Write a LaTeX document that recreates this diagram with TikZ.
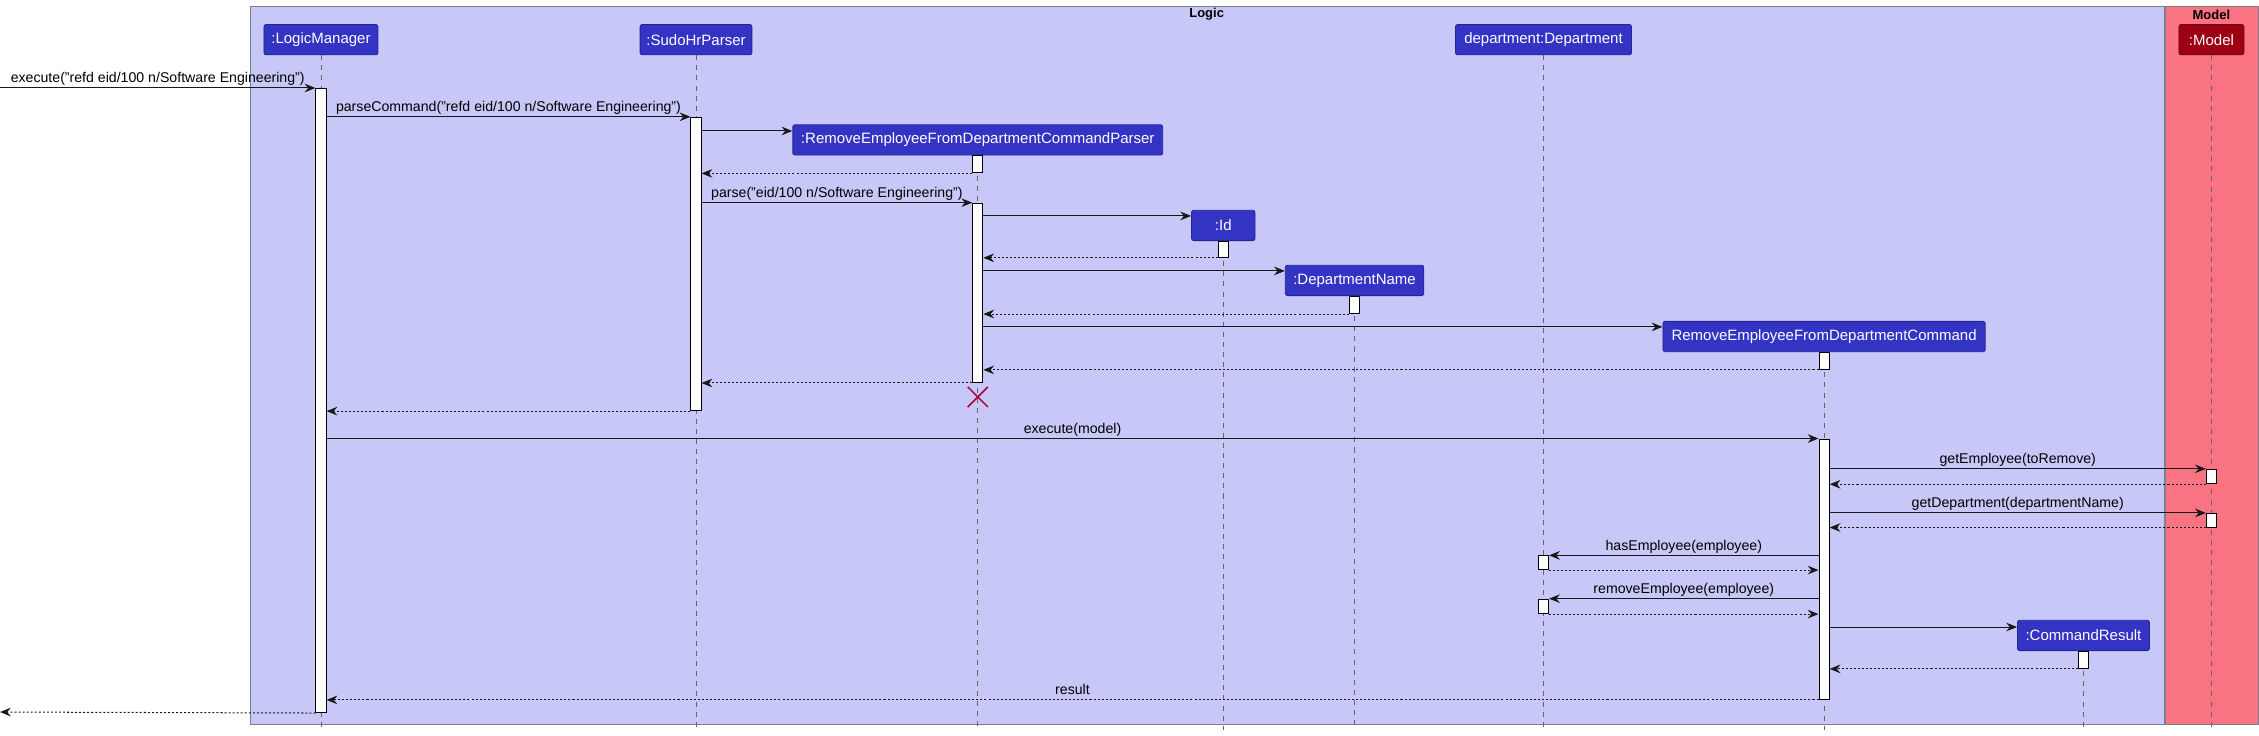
\documentclass[tikz,border=0pt]{standalone}
\usepackage{fontspec}
\setmainfont{Liberation Sans}
\usetikzlibrary{arrows.meta,shapes.misc}
\definecolor{logicbg}{RGB}{200,200,248}
\definecolor{modelbg}{RGB}{249,115,130}
\definecolor{partblue}{RGB}{51,51,196}
\definecolor{partred}{RGB}{157,0,18}
\definecolor{framegray}{RGB}{125,125,140}
\definecolor{destroyred}{RGB}{168,0,54}
\begin{document}
\begin{tikzpicture}[x=1pt,y=-1pt,
 frame/.style={draw=framegray, line width=0.8pt, inner sep=0pt, anchor=north west},
 ftitle/.style={font=\bfseries\fontsize{9}{10}\selectfont, inner sep=0pt},
 part/.style={rounded corners=1.5pt, text=white, font=\fontsize{10.4}{12}\selectfont, minimum height=21pt, inner sep=0pt, line width=0.6pt},
 bluepart/.style={part, fill=partblue, draw=partblue!75!black},
 redpart/.style={part, fill=partred, draw=partred!75!black},
 life/.style={draw=black!60, dash pattern=on 3.5pt off 3.5pt, line width=0.45pt},
 actbar/.style={draw=black, fill=white, line width=0.7pt, minimum width=7pt, inner sep=0pt, anchor=north},
 msg/.style={draw=black!90, line width=0.7pt, -{Stealth[length=7.5pt,width=6pt,inset=2.5pt]}},
 ret/.style={msg, dash pattern=on 1.4pt off 1.4pt},
 lbl/.style={font=\fontsize{9.8}{11}\selectfont, anchor=base, inner sep=0pt, yshift=3.5pt},
 destroy/.style={cross out, draw=destroyred, line width=1pt, minimum size=13pt, inner sep=0pt},
]
\useasboundingbox (0,0) rectangle (1566,510);

% frames
\node[frame, fill=logicbg, minimum width=1327pt, minimum height=498pt] (logic) at (173,4) {};
\node[frame, fill=modelbg, minimum width=64.5pt, minimum height=498pt] (modelfr) at (1501,4) {};
\node[ftitle] (logictitle) at (836.5,10) {Logic};
\node[ftitle] (modeltitle) at (1533,10) {Model};

% participants
\node[bluepart, minimum width=79pt] (lm) at (222.5,27.5) {:LogicManager};
\node[bluepart, minimum width=77.5pt] (sudo) at (482.5,27.5) {:SudoHrParser};
\node[bluepart, minimum width=256.4pt] (parser) at (677.8,97) {:RemoveEmployeeFromDepartmentCommandParser};
\node[bluepart, minimum width=44pt] (id) at (848,156.3) {:Id};
\node[bluepart, minimum width=96pt] (dn) at (939,194.4) {:DepartmentName};
\node[bluepart, minimum width=122pt] (dept) at (1070,27.5) {department:Department};
\node[bluepart, minimum width=223.4pt] (cmd) at (1264.5,233.3) {RemoveEmployeeFromDepartmentCommand};
\node[bluepart, minimum width=91.5pt] (cr) at (1444.3,440.5) {:CommandResult};
\node[redpart, minimum width=45pt] (model) at (1533,27.5) {:Model};

% lifelines
\coordinate (bottom) at (0,506);
\foreach \p in {lm,sudo,parser,id,dn,dept,cmd,cr,model}
  \draw[life] (\p.south) -- (\p.south |- bottom);

% activation bars
\node[actbar, minimum height=432.6pt] (alm) at (222.5,61) {};
\node[actbar, minimum height=203.3pt] (asudo) at (482.5,81) {};
\node[actbar, minimum height=12.1pt] (apa) at (677.8,107.4) {};
\node[actbar, minimum height=124.3pt] (apb) at (677.8,140.5) {};
\node[actbar, minimum height=11pt] (aid) at (848,167) {};
\node[actbar, minimum height=12pt] (adn) at (939,205) {};
\node[actbar, minimum height=11.9pt] (aca) at (1264.5,243.8) {};
\node[actbar, minimum height=180.5pt] (acb) at (1264.5,304) {};
\node[actbar, minimum height=10pt] (ama) at (1533,325) {};
\node[actbar, minimum height=9.4pt] (amb) at (1533,355.6) {};
\node[actbar, minimum height=9.5pt] (ada) at (1070,385) {};
\node[actbar, minimum height=10pt] (adb) at (1070,415) {};
\node[actbar, minimum height=12pt] (acr) at (1444.3,451) {};

% helper coordinates
\coordinate (inpt) at (0,61);
\coordinate (outpt) at (0,493.6);
\coordinate (cpar) at ([yshift=6.2pt]parser.west);
\coordinate (cid) at ([yshift=6.6pt]id.west);
\coordinate (cdn) at ([yshift=6.6pt]dn.west);
\coordinate (ccmd) at ([yshift=6.7pt]cmd.west);
\coordinate (ccr) at ([yshift=5.8pt]cr.west);

% messages
\draw[msg] (inpt) -- (alm.north west) node[lbl, midway] (l1) {execute("refd eid/100 n/Software Engineering")};
\draw[msg] (alm.east |- asudo.north) -- (asudo.north west) node[lbl, midway] (l2) {parseCommand("refd eid/100 n/Software Engineering")};
\draw[msg] (asudo.east |- cpar) -- (cpar);
\draw[ret] (apa.south west) -- (asudo.east |- apa.south);
\draw[msg] (asudo.east |- apb.north) -- (apb.north west) node[lbl, midway] (l3) {parse("eid/100 n/Software Engineering")};
\draw[msg] (apb.east |- cid) -- (cid);
\draw[ret] (aid.south west) -- (apb.east |- aid.south);
\draw[msg] (apb.east |- cdn) -- (cdn);
\draw[ret] (adn.south west) -- (apb.east |- adn.south);
\draw[msg] (apb.east |- ccmd) -- (ccmd);
\draw[ret] (aca.south west) -- (apb.east |- aca.south);
\draw[ret] (apb.south west) -- (asudo.east |- apb.south);
\node[destroy] (xdestroy) at ([yshift=-9.7pt]apb.south) {};
\draw[ret] (asudo.south west) -- (alm.east |- asudo.south);
\draw[msg] (alm.east |- acb.north) -- (acb.north west) node[lbl, midway] (l4) {execute(model)};
\draw[msg] (acb.east |- ama.north) -- (ama.north west) node[lbl, midway] (l5) {getEmployee(toRemove)};
\draw[ret] (ama.south west) -- (acb.east |- ama.south);
\draw[msg] (acb.east |- amb.north) -- (amb.north west) node[lbl, midway] (l6) {getDepartment(departmentName)};
\draw[ret] (amb.south west) -- (acb.east |- amb.south);
\draw[msg] (acb.west |- ada.north) -- (ada.north east) node[lbl, midway] (l7) {hasEmployee(employee)};
\draw[ret] (ada.south east) -- (acb.west |- ada.south);
\draw[msg] (acb.west |- adb.north) -- (adb.north east) node[lbl, midway] (l8) {removeEmployee(employee)};
\draw[ret] (adb.south east) -- (acb.west |- adb.south);
\draw[msg] (acb.east |- ccr) -- (ccr);
\draw[ret] (acr.south west) -- (acb.east |- acr.south);
\draw[ret] (acb.south west) -- (alm.east |- acb.south) node[lbl, midway] (l9) {result};
\draw[ret] (alm.south west) -- (outpt);
\end{tikzpicture}
\end{document}
